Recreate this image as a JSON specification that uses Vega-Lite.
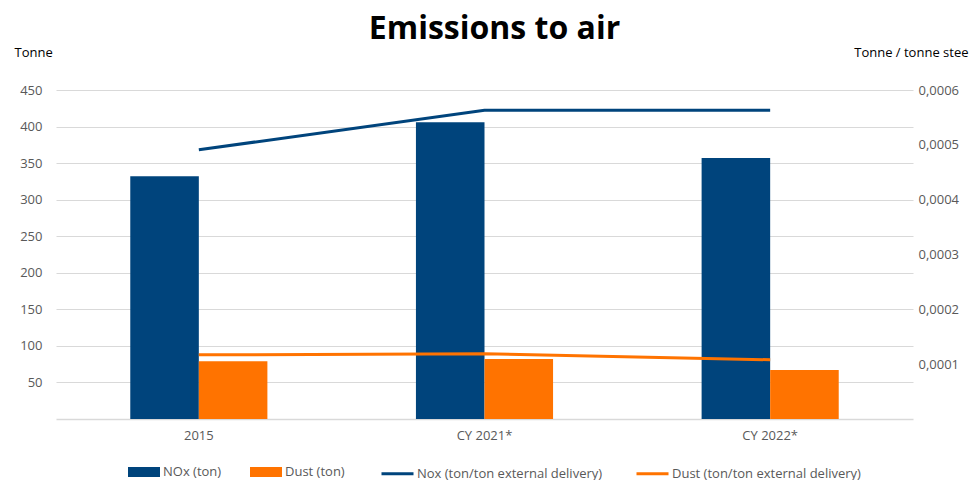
{
  "$schema": "https://vega.github.io/schema/vega-lite/v6.json",
  "width": 857,
  "height": 329,
  "autosize": {"type": "none"},
  "padding": {"left": 56, "top": 90, "right": 57, "bottom": 61},
  "title": {"text": "Emissions to air", "fontSize": 32, "fontWeight": "bold", "font": "Open Sans", "color": "#000000", "anchor": "middle", "offset": 0, "dx": 10},
  "config": {
    "font": "Open Sans",
    "view": {"stroke": null},
    "axis": {"labelFont": "Open Sans", "labelFontSize": 13, "labelColor": "#595959", "ticks": false, "titleFont": "Open Sans", "titleFontSize": 13, "titleFontWeight": "normal", "titleColor": "#000000"},
    "legend": {"labelFont": "Open Sans", "labelFontSize": 13, "labelColor": "#595959", "labelLimit": 400}
  },
  "datasets": {
    "bars": [
      {"year": "2015", "series": "NOx (ton)", "value": 332},
      {"year": "2015", "series": "Dust (ton)", "value": 79},
      {"year": "CY 2021*", "series": "NOx (ton)", "value": 406},
      {"year": "CY 2021*", "series": "Dust (ton)", "value": 82},
      {"year": "CY 2022*", "series": "NOx (ton)", "value": 357},
      {"year": "CY 2022*", "series": "Dust (ton)", "value": 67}
    ],
    "lines": [
      {"year": "2015", "series": "Nox (ton/ton external delivery)", "value": 0.000491},
      {"year": "CY 2021*", "series": "Nox (ton/ton external delivery)", "value": 0.000563},
      {"year": "CY 2022*", "series": "Nox (ton/ton external delivery)", "value": 0.000563},
      {"year": "2015", "series": "Dust (ton/ton external delivery)", "value": 0.000117},
      {"year": "CY 2021*", "series": "Dust (ton/ton external delivery)", "value": 0.000119},
      {"year": "CY 2022*", "series": "Dust (ton/ton external delivery)", "value": 0.000108}
    ]
  },
  "layer": [
    {
      "data": {"name": "bars"},
      "mark": {"type": "bar"},
      "encoding": {
        "x": {"field": "year", "type": "nominal", "sort": ["2015", "CY 2021*", "CY 2022*"],
              "scale": {"paddingInner": 0.52, "paddingOuter": 0.26},
              "axis": {"title": null, "labelAngle": 0, "domain": true, "domainColor": "#d9d9d9", "domainWidth": 1.5, "labelPadding": 10, "grid": false}},
        "xOffset": {"field": "series", "type": "nominal", "sort": ["NOx (ton)", "Dust (ton)"], "scale": {"paddingInner": 0, "paddingOuter": 0}},
        "y": {"field": "value", "type": "quantitative", "scale": {"domain": [0, 450], "nice": false},
              "axis": {"title": "Tonne", "titleAngle": 0, "titleAlign": "left", "titleBaseline": "middle", "titleX": -42, "titleY": -38,
                       "values": [50, 100, 150, 200, 250, 300, 350, 400, 450], "grid": true, "gridColor": "#d9d9d9", "domain": false, "labelPadding": 14}},
        "fill": {"field": "series", "type": "nominal",
                 "scale": {"domain": ["NOx (ton)", "Dust (ton)"], "range": ["#00447c", "#ff7300"]},
                 "legend": {"title": null, "orient": "none", "legendX": 72, "legendY": 366, "direction": "horizontal",
                            "symbolType": "M-1,-0.3125h2v0.625h-2z", "symbolSize": 1024, "symbolStrokeWidth": 0, "columnPadding": 28, "labelOffset": 3}}
      }
    },
    {
      "data": {"name": "lines"},
      "mark": {"type": "line", "strokeWidth": 3},
      "encoding": {
        "x": {"field": "year", "type": "nominal", "sort": ["2015", "CY 2021*", "CY 2022*"]},
        "y": {"field": "value", "type": "quantitative", "scale": {"domain": [0, 0.0006], "nice": false},
              "axis": {"orient": "right", "title": "Tonne / tonne stee", "titleAngle": 0, "titleAlign": "right", "titleBaseline": "middle", "titleX": 55, "titleY": -38,
                       "values": [0.0001, 0.0002, 0.0003, 0.0004, 0.0005, 0.0006], "grid": false, "domain": false, "labelPadding": 5,
                       "labelExpr": "replace(format(datum.value, '.4f'), '.', ',')"}},
        "stroke": {"field": "series", "type": "nominal",
                   "scale": {"domain": ["Nox (ton/ton external delivery)", "Dust (ton/ton external delivery)"], "range": ["#00447c", "#ff7300"]},
                   "legend": {"title": null, "orient": "none", "legendX": 324, "legendY": 366, "direction": "horizontal",
                              "symbolType": "stroke", "symbolSize": 1024, "symbolStrokeWidth": 3, "columnPadding": 27, "labelOffset": 2}}
      }
    }
  ],
  "resolve": {"scale": {"y": "independent"}}
}
